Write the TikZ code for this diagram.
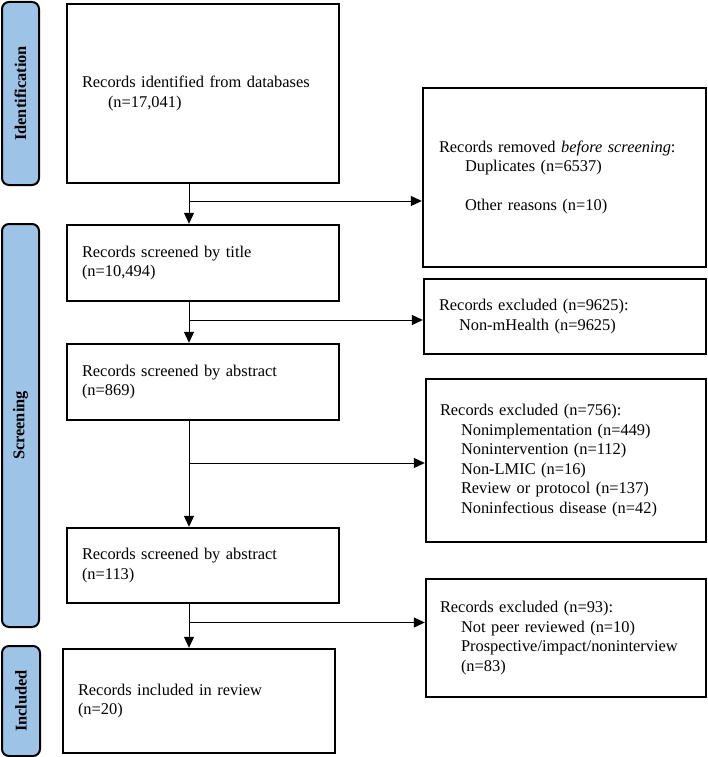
\documentclass[tikz,border=0pt]{standalone}
\usepackage{fontspec}
\setmainfont{Liberation Serif}
\usetikzlibrary{arrows.meta,calc}
\definecolor{tabblue}{RGB}{157,195,230}
\begin{document}
\begin{tikzpicture}[x=1pt,y=-1pt,
  box/.style={draw, line width=2.4pt, inner xsep=15pt, inner ysep=0pt, align=left,
    font=\fontsize{16.4}{19.5}\selectfont},
  tab/.style={draw, line width=2pt, fill=tabblue, rounded corners=7pt, rotate=90,
    inner sep=0pt, font=\fontsize{16.4}{19.5}\selectfont\bfseries},
  arr/.style={line width=1pt, -{Triangle[length=11pt,width=10pt]}},
]
\useasboundingbox (0,0) rectangle (708,757);

% phase tabs
\node[tab, minimum width=183pt, minimum height=37pt] (t1) at (20.5,93.5) {Identification};
\node[tab, minimum width=403pt, minimum height=37pt] (t2) at (20.5,425.5) {Screening};
\node[tab, minimum width=110pt, minimum height=38pt] (t3) at (21,701) {Included};

% main column
\node[box, minimum width=272pt, minimum height=179pt, text width=242pt] (b1) at (203,93.5)
  {Records identified from databases\\\hspace*{26pt}(n=17,041)};
\node[box, minimum width=272pt, minimum height=76pt, text width=242pt] (b2) at (203,263)
  {Records screened by title\\(n=10,494)};
\node[box, minimum width=272pt, minimum height=76pt, text width=242pt] (b3) at (203,382)
  {Records screened by abstract\\(n=869)};
\node[box, minimum width=272pt, minimum height=75pt, text width=242pt] (b4) at (203,565.5)
  {Records screened by abstract\\(n=113)};
\node[box, minimum width=272pt, minimum height=104pt, text width=242pt] (b5) at (199,701)
  {Records included in review\\(n=20)};

% right column
\node[box, minimum width=283pt, minimum height=179pt, inner xsep=16pt, text width=251pt] (r1) at (564.5,177.5)
  {Records removed \textit{before screening}:\\
   \hspace*{26pt}Duplicates (n=6537)\\[19.5pt]
   \hspace*{26pt}Other reasons (n=10)};
\node[box, minimum width=282pt, minimum height=75pt, text width=252pt] (r2) at (565,316.5)
  {Records excluded (n=9625):\\
   \hspace*{20pt}Non-mHealth (n=9625)};
\node[box, minimum width=280pt, minimum height=163pt, inner xsep=14pt, text width=252pt] (r3) at (566,460.5)
  {Records excluded (n=756):\\
   \hspace*{21pt}Nonimplementation (n=449)\\
   \hspace*{21pt}Nonintervention (n=112)\\
   \hspace*{21pt}Non-LMIC (n=16)\\
   \hspace*{21pt}Review or protocol (n=137)\\
   \hspace*{21pt}Noninfectious disease (n=42)};
\node[box, minimum width=280pt, minimum height=118pt, inner xsep=14pt, text width=252pt] (r4) at (566,638)
  {Records excluded (n=93):\\
   \hspace*{21pt}Not peer reviewed (n=10)\\
   \hspace*{21pt}Prospective/impact/noninterview\\
   \hspace*{21pt}(n=83)};

% connectors
\coordinate (ax) at (189,0);
\coordinate (j1) at (189,201);
\coordinate (j2) at (189,320);
\coordinate (j3) at (189,463);
\coordinate (j4) at (189,622.5);

\draw[arr] (ax |- b1.south) -- (ax |- b2.north);
\draw[arr] (ax |- b2.south) -- (ax |- b3.north);
\draw[arr] (ax |- b3.south) -- (ax |- b4.north);
\draw[arr] (ax |- b4.south) -- (ax |- b5.north);

\draw[arr] (j1) -- (j1 -| r1.west);
\draw[arr] (j2) -- (j2 -| r2.west);
\draw[arr] (j3) -- (j3 -| r3.west);
\draw[arr] (j4) -- (j4 -| r4.west);
\end{tikzpicture}
\end{document}
